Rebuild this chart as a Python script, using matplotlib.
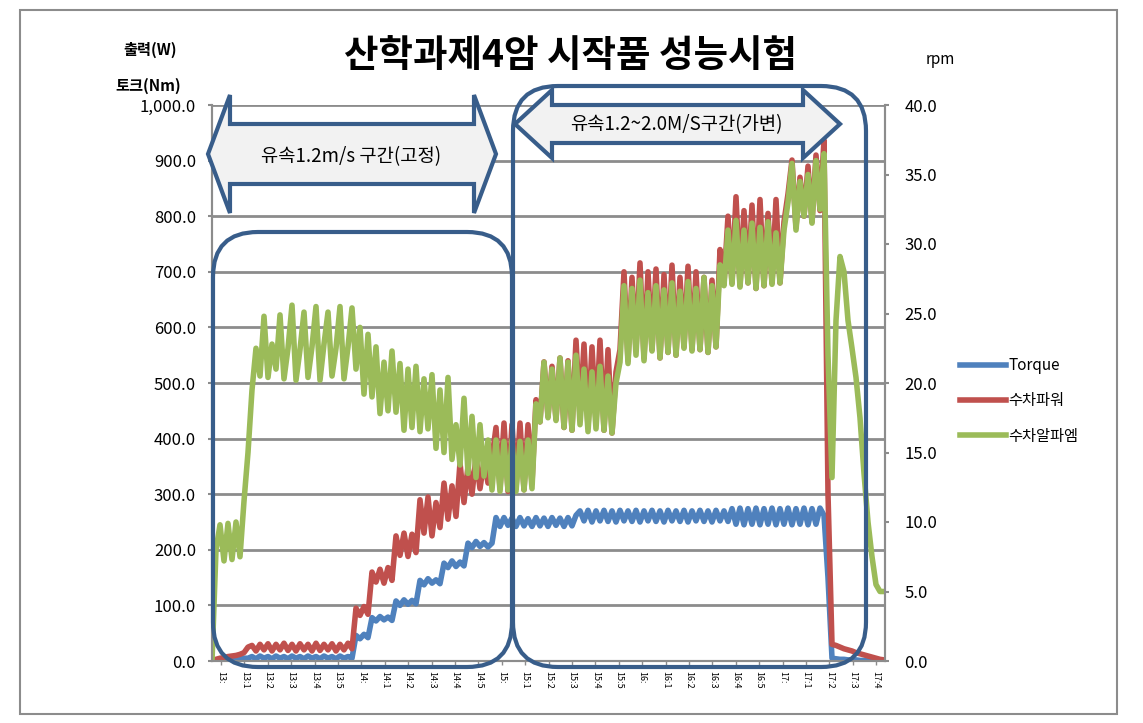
import matplotlib
matplotlib.use("Agg")
import matplotlib.pyplot as plt
import numpy as np
from matplotlib.patches import FancyBboxPatch, Polygon, Rectangle
from matplotlib.lines import Line2D

plt.rcParams["font.family"] = ["Noto Sans CJK KR", "DejaVu Sans"]

# ---- data (one sample every ~4 px of the original chart) ----
rpm = [
    0, 8.0, 9.8, 7.2, 9.9, 7.3, 10.0, 7.5, 11.5, 15.0,
    19.5, 22.5, 20.5, 24.8, 20.4, 22.8, 21.0, 24.9, 20.3, 22.5,
    25.6, 20.2, 22.4, 25.1, 20.4, 22.6, 25.5, 20.2, 22.8, 25.1,
    20.5, 22.5, 25.5, 20.3, 22.6, 25.4, 21.0, 24.0, 19.2, 23.5,
    19.0, 22.6, 17.8, 21.5, 18.0, 22.3, 17.9, 21.4, 16.6, 21.0,
    16.8, 21.2, 16.5, 20.3, 16.7, 20.6, 15.3, 19.5, 15.0, 20.4,
    14.5, 17.0, 14.1, 18.9, 13.5, 17.6, 13.2, 17.0, 13.3, 15.9,
    12.3, 15.9, 12.2, 15.8, 12.3, 15.9, 12.2, 15.8, 12.3, 15.9,
    12.4, 18.5, 17.2, 21.5, 17.5, 21.0, 17.3, 21.8, 16.8, 21.5,
    16.6, 22.0, 17.0, 21.0, 16.5, 20.8, 16.7, 21.2, 16.6, 20.5,
    16.4, 20.0, 21.5, 27.0, 21.4, 26.8, 22.0, 27.4, 21.6, 26.5,
    22.3, 27.0, 21.8, 26.7, 22.2, 27.2, 22.0, 26.6, 22.5, 27.3,
    22.3, 26.8, 22.4, 27.6, 22.2, 27.0, 22.6, 28.5, 27.0, 31.0,
    27.1, 31.7, 26.9, 31.0, 27.2, 31.5, 26.8, 31.2, 27.0, 31.6,
    27.1, 30.8, 27.2, 31.0, 33.0, 35.8, 31.0, 34.5, 32.0, 35.0,
    31.5, 36.0, 32.5, 36.5, 22.0, 13.2, 24.5, 29.1, 28.0, 24.5,
    22.5, 20.4, 17.5, 13.5, 10.0, 7.5, 5.5, 5.0, 5.0,
]

power = [
    0, 3, 5, 6, 8, 9, 10, 12, 15, 25,
    28, 18, 30, 20, 31, 18, 30, 20, 32, 19,
    30, 18, 31, 20, 30, 18, 32, 19, 30, 20,
    31, 18, 30, 20, 32, 22, 95, 82, 98, 84,
    160, 142, 165, 140, 168, 145, 225, 190, 230, 188,
    228, 195, 290, 230, 295, 225, 285, 240, 320, 255,
    315, 260, 356, 285, 350, 300, 367, 310, 360, 320,
    365, 420, 310, 428, 305, 425, 310, 428, 308, 425,
    320, 470, 430, 538, 440, 530, 435, 545, 420, 540,
    415, 577, 440, 570, 420, 565, 430, 577, 415, 560,
    410, 520, 560, 700, 540, 690, 560, 716, 545, 700,
    560, 705, 545, 695, 555, 712, 550, 690, 565, 710,
    560, 700, 560, 690, 555, 685, 565, 740, 680, 800,
    680, 835, 675, 810, 680, 820, 670, 830, 675, 805,
    680, 830, 680, 790, 840, 901, 780, 870, 800, 890,
    790, 910, 810, 937, 300, 30, 28, 25, 22, 20,
    18, 15, 13, 11, 9, 7, 5, 3, 2,
]

torque = [
    0, 1, 2, 2, 3, 3, 4, 4, 5, 5,
    8, 4, 9, 5, 8, 4, 9, 5, 8, 4,
    9, 5, 8, 4, 9, 5, 8, 4, 9, 5,
    8, 4, 9, 5, 8, 5, 46, 40, 48, 42,
    78, 72, 80, 74, 79, 73, 108, 100, 110, 102,
    109, 103, 145, 137, 148, 140, 146, 139, 176, 168,
    180, 170, 178, 171, 212, 204, 215, 206, 213, 205,
    212, 258, 242, 258, 244, 257, 242, 258, 243, 256,
    242, 258, 243, 257, 242, 258, 244, 257, 242, 258,
    243, 262, 270, 252, 271, 250, 270, 252, 271, 251,
    270, 250, 271, 252, 270, 251, 271, 250, 270, 252,
    271, 251, 270, 250, 271, 252, 270, 251, 271, 250,
    270, 252, 271, 251, 270, 250, 271, 252, 270, 251,
    274, 246, 275, 245, 274, 246, 275, 245, 274, 246,
    275, 245, 274, 246, 275, 245, 274, 246, 275, 245,
    274, 246, 275, 262, 150, 5, 4, 3, 3, 2,
    2, 2, 1, 1, 1, 1, 0, 0, 0,
]

xtick_labels = ["13:", "13:1", "13:2", "13:3", "13:4", "13:5", "14:", "14:1",
                "14:2", "14:3", "14:4", "14:5", "15:", "15:1", "15:2", "15:3",
                "15:4", "15:5", "16:", "16:1", "16:2", "16:3", "16:4", "16:5",
                "17:", "17:1", "17:2", "17:3", "17:4"]

left_ticks = [0, 100, 200, 300, 400, 500, 600, 700, 800, 900, 1000]
right_ticks = [0, 5, 10, 15, 20, 25, 30, 35, 40]

C_BLUE = "#4F81BD"
C_RED = "#C0504D"
C_GREEN = "#9BBB59"
C_SHAPE = "#385D8A"
C_GRID = "#8C8C8C"

W, H = 1143, 723
fig = plt.figure(figsize=(W / 100, H / 100), dpi=100)
ax = fig.add_axes([212 / W, 1 - 661 / H, (885 - 212) / W, (661 - 105) / H])
ax2 = ax.twinx()

x = np.arange(len(rpm))
LW = 4
ax.plot(x, torque, color=C_BLUE, lw=LW, solid_joinstyle="round", label="Torque")
ax.plot(x, power, color=C_RED, lw=LW, solid_joinstyle="round", label="수차파워")
ax2.plot(x, rpm, color=C_GREEN, lw=LW, solid_joinstyle="round", label="수차알파엠")

ax.set_xlim(0, 168.25)
ax.set_ylim(0, 1000)
ax2.set_ylim(0, 40)
ax.set_yticks(left_ticks)
ax.set_yticklabels([f"{v:,.1f}" for v in left_ticks], fontsize=12)
ax2.set_yticks(right_ticks)
ax2.set_yticklabels([f"{v:.1f}" for v in right_ticks], fontsize=12)

xt = 2.25 + 5.85 * np.arange(len(xtick_labels))
ax.set_xticks(xt)
ax.set_xticklabels(xtick_labels, rotation=270, fontsize=6.5)

ax.grid(axis="y", color=C_GRID, lw=2)
ax.set_axisbelow(True)
for a in (ax, ax2):
    a.spines["top"].set_visible(False)
    for s in ("left", "right", "bottom"):
        a.spines[s].set_color(C_GRID)
        a.spines[s].set_linewidth(1.5)
ax.tick_params(axis="y", colors=C_GRID, labelcolor="black", length=3, width=1.5, pad=8.5)
ax2.tick_params(axis="y", colors=C_GRID, labelcolor="black", length=3, width=1.5, pad=11)
ax.tick_params(axis="x", colors=C_GRID, labelcolor="black", length=3, width=1, pad=4)


def px(xp, yp):
    return (xp / 100, (H - yp) / 100)


# outer chart border
fig.add_artist(Rectangle(px(20, 714), (1117 - 20) / 100, (714 - 10) / 100,
                         transform=fig.dpi_scale_trans, fill=False, ec="#8C8C8C", lw=1.5))

# rounded boxes
for x0, y0, x1, y1 in [(213, 232, 512, 667), (513, 86, 866, 667)]:
    fig.add_artist(FancyBboxPatch(px(x0, y1), (x1 - x0) / 100, (y1 - y0) / 100,
                                  boxstyle="round,pad=0,rounding_size=0.45",
                                  transform=fig.dpi_scale_trans, fill=False,
                                  ec=C_SHAPE, lw=3, zorder=5))


def double_arrow(xl, xr, yc, head_w, head_h, shaft_h):
    pts = [(xl, yc), (xl + head_w, yc - head_h), (xl + head_w, yc - shaft_h),
           (xr - head_w, yc - shaft_h), (xr - head_w, yc - head_h), (xr, yc),
           (xr - head_w, yc + head_h), (xr - head_w, yc + shaft_h),
           (xl + head_w, yc + shaft_h), (xl + head_w, yc + head_h)]
    fig.add_artist(Polygon([px(a, b) for a, b in pts], closed=True,
                           transform=fig.dpi_scale_trans, fc="#F2F2F2",
                           ec=C_SHAPE, lw=3, zorder=6))


double_arrow(208, 496, 154, 22, 59, 30)
double_arrow(515, 840, 124, 37, 34, 19)

fig.text(351 / W, 1 - 157 / H, "유속1.2m/s 구간(고정)", ha="center", va="center",
         fontsize=13.5, zorder=7)
fig.text(676 / W, 1 - 125 / H, "유속1.2~2.0M/S구간(가변)", ha="center", va="center",
         fontsize=13.5, zorder=7)

fig.text(570 / W, 1 - 55 / H, "산학과제4암 시작품 성능시험", ha="center", va="center",
         fontsize=27, fontweight="bold")
fig.text(150 / W, 1 - 50 / H, "출력(W)", ha="center", va="center", fontsize=11,
         fontweight="bold")
fig.text(148 / W, 1 - 86 / H, "토크(Nm)", ha="center", va="center", fontsize=11,
         fontweight="bold")
fig.text(940 / W, 1 - 60 / H, "rpm", ha="center", va="center", fontsize=11)

handles = [Line2D([], [], color=c, lw=LW) for c in (C_BLUE, C_RED, C_GREEN)]
fig.legend(handles, ["Torque", "수차파워", "수차알파엠"], loc="center left",
           bbox_to_anchor=(946 / W, 1 - 401 / H), frameon=False, fontsize=11,
           handlelength=3, handletextpad=0.2, labelspacing=1.2)

fig.savefig("out.png", dpi=100)
